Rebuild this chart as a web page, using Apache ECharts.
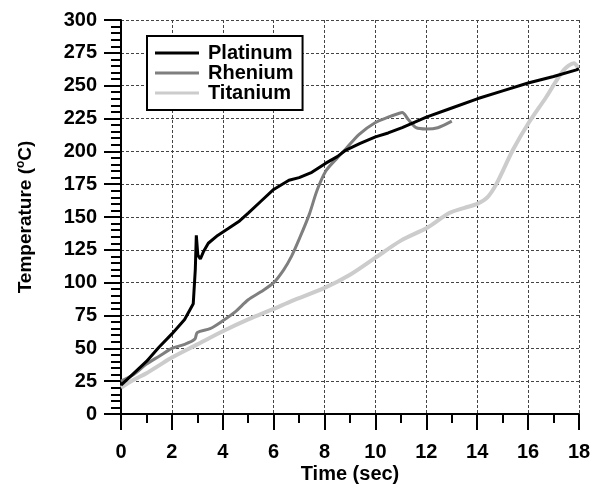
<!DOCTYPE html>
<html>
<head>
<meta charset="utf-8">
<script src="https://cdn.jsdelivr.net/npm/echarts@6/dist/echarts.min.js"></script>
<style>
  html, body { margin: 0; padding: 0; background: #fff; }
  #chart { width: 594px; height: 484px; }
</style>
</head>
<body>
<div id="chart"></div>
<script>
// values (time in sec, temperature in degC)
const platinumTime = [0, 0.5, 1, 1.5, 2, 2.5, 2.84, 2.92, 2.96, 3.02, 3.12, 3.25, 3.43, 3.8, 4.2, 4.66, 5.0, 5.5, 6.0, 6.6, 7.0, 7.5, 8.05, 8.5, 8.84, 9.4, 10.0, 10.5, 11.05, 12.0, 13.0, 14.0, 15.0, 16.0, 17.0, 17.9, 18];
const platinumTemp = [22, 31, 40, 51, 61, 72, 84, 110, 136, 121, 118, 124, 130, 136, 141, 147, 153, 162, 171, 178, 180, 184, 191, 196, 201, 206, 211, 214, 218, 226, 233, 240, 246, 252, 257, 262, 263];

const rheniumTime = [0, 0.5, 1, 1.5, 2, 2.5, 2.9, 3.0, 3.5, 4, 4.5, 5, 5.5, 6, 6.4, 6.7, 7.0, 7.4, 7.7, 8.05, 8.5, 8.84, 9.36, 10, 10.5, 10.94, 11.05, 11.3, 11.6, 12, 12.45, 13.0];
const rheniumTemp = [25, 30, 38, 44, 50, 53, 57, 62, 65, 71, 78, 87, 93, 100, 110, 120, 133, 152, 170, 185, 195, 202, 213, 222, 226, 229, 229.5, 224, 218, 217, 218, 223];

const titaniumTime = [0, 0.5, 1, 1.5, 2, 3, 4, 5, 6, 6.7, 8, 9, 10, 11, 12.05, 12.9, 13.5, 14, 14.4, 14.75, 15.4, 16, 16.7, 17.4, 17.8, 17.95];
const titaniumTemp = [20, 26, 31, 37, 43, 53, 63, 72, 80, 86, 96, 106, 119, 132, 142, 153, 157, 160, 165, 175, 201, 221, 241, 262, 267, 264];

const seriesNames = ["Platinum", "Rhenium", "Titanium"];

const zip = (xs, ys) => xs.map((x, i) => [x, ys[i]]);

const font = "'Liberation Sans', Arial, sans-serif";
const gridDash = { color: "#444", width: 1, type: [3, 2] };
const labelFont = { fontFamily: font, fontWeight: "bold", fontSize: 20, color: "#000" };

const chart = echarts.init(document.getElementById("chart"), null, { renderer: "canvas" });

const option = {
  backgroundColor: "#fff",
  animation: false,
  textStyle: { fontFamily: font, fontWeight: "bold", color: "#000" },
  // fixed plot rectangle, v6 would otherwise shrink it to fit the axis names
  grid: { left: 121, right: 15, top: 20, bottom: 70, outerBoundsMode: "none" },
  legend: {
    orient: "vertical",
    left: 147,
    top: 36,
    padding: [7, 9, 7, 8],
    itemGap: 0,
    itemWidth: 44,
    itemHeight: 3,
    icon: "rect",
    borderColor: "#000",
    borderWidth: 2,
    backgroundColor: "#fff",
    textStyle: Object.assign({}, labelFont, { padding: [0, 0, 0, 4] }),
    data: seriesNames,
  },
  xAxis: {
    type: "value",
    min: 0,
    max: 18,
    interval: 2,
    name: "Time (sec)",
    nameLocation: "middle",
    nameGap: 50,
    nameMoveOverlap: false,
    nameTextStyle: labelFont,
    axisLine: { show: true, onZero: false, lineStyle: { color: "#000", width: 2 } },
    axisTick: { show: true, length: 16, lineStyle: { color: "#000", width: 2 } },
    minorTick: { show: true, splitNumber: 2, length: 9, lineStyle: { color: "#000", width: 2 } },
    axisLabel: Object.assign({ margin: 28 }, labelFont),
    splitLine: { show: true, lineStyle: gridDash },
  },
  yAxis: {
    type: "value",
    min: 0,
    max: 300,
    interval: 25,
    name: "Temperature ({sup|o}C)",
    nameLocation: "middle",
    nameGap: 84,
    nameMoveOverlap: false,
    nameTextStyle: Object.assign({}, labelFont, {
      fontSize: 19,
      rich: { sup: { fontFamily: font, fontWeight: "bold", fontSize: 12, color: "#000", padding: [0, 0, 10, 0] } },
    }),
    axisLine: { show: true, onZero: false, lineStyle: { color: "#000", width: 2 } },
    axisTick: { show: true, length: 17, lineStyle: { color: "#000", width: 2 } },
    minorTick: { show: true, splitNumber: 5, length: 10, lineStyle: { color: "#000", width: 2 } },
    axisLabel: Object.assign({ margin: 24 }, labelFont),
    splitLine: { show: true, lineStyle: gridDash },
  },
  series: [
    {
      name: "Platinum",
      type: "line",
      symbol: "none",
      z: 4,
      lineStyle: { color: "#000", width: 3 },
      itemStyle: { color: "#000" },
      data: zip(platinumTime, platinumTemp),
    },
    {
      name: "Rhenium",
      type: "line",
      symbol: "none",
      smooth: 0.3,
      z: 3,
      lineStyle: { color: "#7f7f7f", width: 3 },
      itemStyle: { color: "#7f7f7f" },
      data: zip(rheniumTime, rheniumTemp),
    },
    {
      name: "Titanium",
      type: "line",
      symbol: "none",
      smooth: 0.3,
      z: 2,
      lineStyle: { color: "#cccccc", width: 4 },
      itemStyle: { color: "#cccccc" },
      data: zip(titaniumTime, titaniumTemp),
    },
  ],
};

chart.setOption(option);
</script>
</body>
</html>
